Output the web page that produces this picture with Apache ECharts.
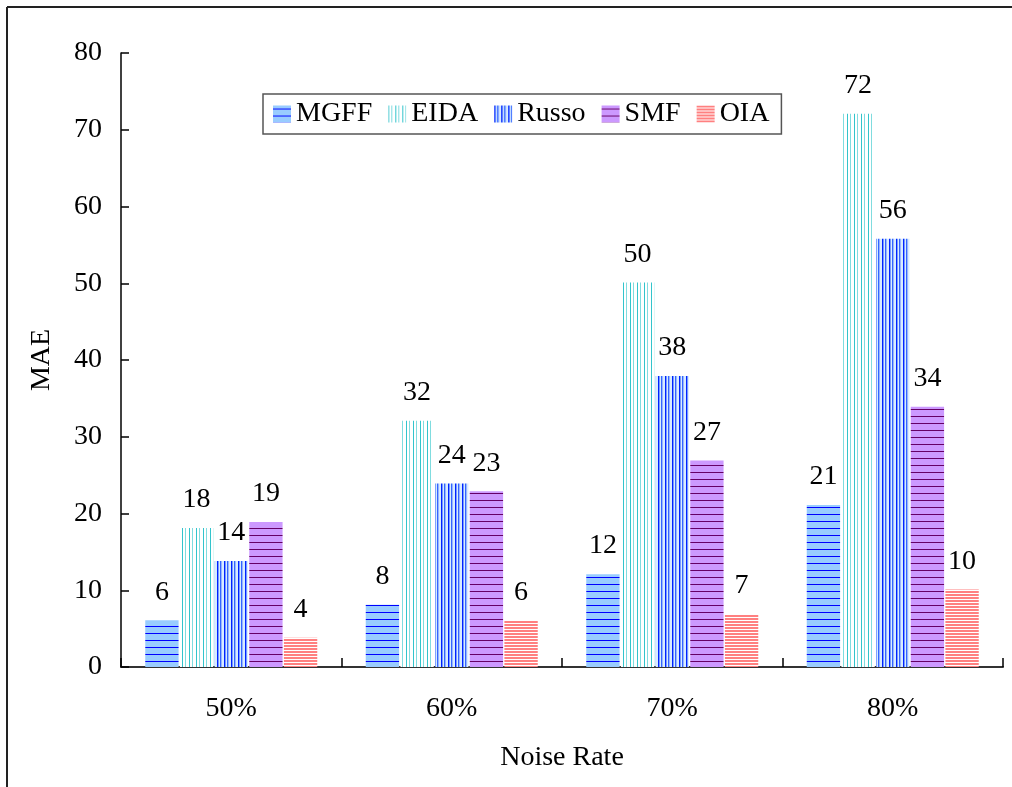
<!DOCTYPE html>
<html>
<head>
<meta charset="utf-8">
<script src="https://cdn.jsdelivr.net/npm/echarts@6/dist/echarts.min.js"></script>
<style>
html,body{margin:0;padding:0;background:#fff;}
#chart{width:1012px;height:787px;}
</style>
</head>
<body>
<div id="chart"></div>
<script>
const categories = ['50%', '60%', '70%', '80%'];
const seriesNames = ['MGFF', 'EIDA', 'Russo', 'SMF', 'OIA'];
const MGFF = [6.1, 8.1, 12.1, 21.1];
const EIDA = [18.1, 32.1, 50.1, 72.1];
const Russo = [13.8, 23.9, 37.9, 55.8];
const SMF = [18.9, 22.9, 26.9, 33.9];
const OIA = [3.8, 6.0, 6.9, 10.1];
const yTicks = [0, 10, 20, 30, 40, 50, 60, 70, 80];

function pattern(w, h, draw) {
  const c = document.createElement('canvas');
  c.width = w; c.height = h;
  const ctx = c.getContext('2d');
  draw(ctx);
  return { image: c, repeat: 'repeat' };
}
const pMGFF = pattern(4, 7, ctx => {
  ctx.fillStyle = '#99ccff'; ctx.fillRect(0, 0, 4, 7);
  ctx.fillStyle = '#0000ff'; ctx.fillRect(0, 3, 4, 1);
});
const pEIDA = pattern(7, 4, ctx => {
  ctx.fillStyle = '#ffffff'; ctx.fillRect(0, 0, 7, 4);
  ctx.fillStyle = '#33c4cc'; ctx.fillRect(0, 0, 1, 4);
  ctx.fillStyle = '#80dcdf'; ctx.fillRect(3, 0, 1, 4);
});
const pRusso = pattern(7, 4, ctx => {
  ctx.fillStyle = '#d6ecff'; ctx.fillRect(0, 0, 7, 4);
  ctx.fillStyle = '#0022ff'; ctx.fillRect(0, 0, 1, 4);
  ctx.fillStyle = '#7799ff'; ctx.fillRect(1, 0, 1, 4);
  ctx.fillStyle = '#3366ff'; ctx.fillRect(3, 0, 1, 4);
  ctx.fillStyle = '#99b3ff'; ctx.fillRect(4, 0, 1, 4);
});
const pSMF = pattern(4, 7, ctx => {
  ctx.fillStyle = '#cc99ff'; ctx.fillRect(0, 0, 4, 7);
  ctx.fillStyle = '#660066'; ctx.fillRect(0, 3, 4, 1);
});
const pOIA = pattern(4, 3, ctx => {
  ctx.fillStyle = '#ffffff'; ctx.fillRect(0, 0, 4, 3);
  ctx.fillStyle = '#ff8080'; ctx.fillRect(0, 0, 4, 2);
});
const patterns = [pMGFF, pEIDA, pRusso, pSMF, pOIA];
const dataArr = [MGFF, EIDA, Russo, SMF, OIA];

const FONT = 'Liberation Serif';
const FS = 28;

const chart = echarts.init(document.getElementById('chart'), null, { renderer: 'canvas' });
chart.setOption({
  animation: false,
  backgroundColor: '#ffffff',
  textStyle: { fontFamily: FONT, color: '#000' },
  graphic: [
    { type: 'line', shape: { x1: 7, y1: 7, x2: 1012, y2: 7 }, style: { stroke: '#222', lineWidth: 2 } },
    { type: 'line', shape: { x1: 7, y1: 7, x2: 7, y2: 787 }, style: { stroke: '#222', lineWidth: 2 } }
  ],
  grid: { left: 121, right: 9, top: 53, bottom: 120, containLabel: false },
  legend: {
    left: 263, top: 94,
    padding: [6, 12, 6, 10],
    borderColor: '#555', borderWidth: 1.5,
    itemWidth: 18, itemHeight: 17, itemGap: 16,
    icon: 'rect',
    textStyle: { fontFamily: FONT, fontSize: FS, color: '#000' },
    data: seriesNames
  },
  xAxis: {
    type: 'category',
    data: categories,
    name: 'Noise Rate',
    nameLocation: 'middle',
    nameGap: 77,
    nameTextStyle: { fontFamily: FONT, fontSize: FS, color: '#000' },
    axisLine: { lineStyle: { color: '#333', width: 2 } },
    axisTick: { show: true, inside: true, length: 9, lineStyle: { color: '#000', width: 1.5 } },
    axisLabel: { fontFamily: FONT, fontSize: FS, color: '#000', margin: 28 },
    splitLine: { show: false }
  },
  yAxis: {
    type: 'value',
    min: 0, max: 80, interval: 10,
    name: 'MAE',
    nameLocation: 'middle',
    nameGap: 65,
    nameTextStyle: { fontFamily: FONT, fontSize: FS, color: '#000' },
    axisLine: { show: true, lineStyle: { color: '#000', width: 1.5 } },
    axisTick: { show: true, inside: true, length: 8, lineStyle: { color: '#000', width: 1.5 } },
    axisLabel: { fontFamily: FONT, fontSize: FS, color: '#000', margin: 19,
      formatter: v => yTicks.includes(v) ? String(v) : '' },
    splitLine: { show: false }
  },
  series: seriesNames.map((name, i) => ({
    name: name,
    type: 'bar',
    data: dataArr[i],
    barGap: '4%',
    barCategoryGap: '22%',
    itemStyle: { color: patterns[i] },
    label: {
      show: true, position: 'top', distance: 14,
      fontFamily: FONT, fontSize: FS, color: '#000',
      formatter: p => String(Math.round(p.value))
    }
  }))
});
</script>
</body>
</html>
